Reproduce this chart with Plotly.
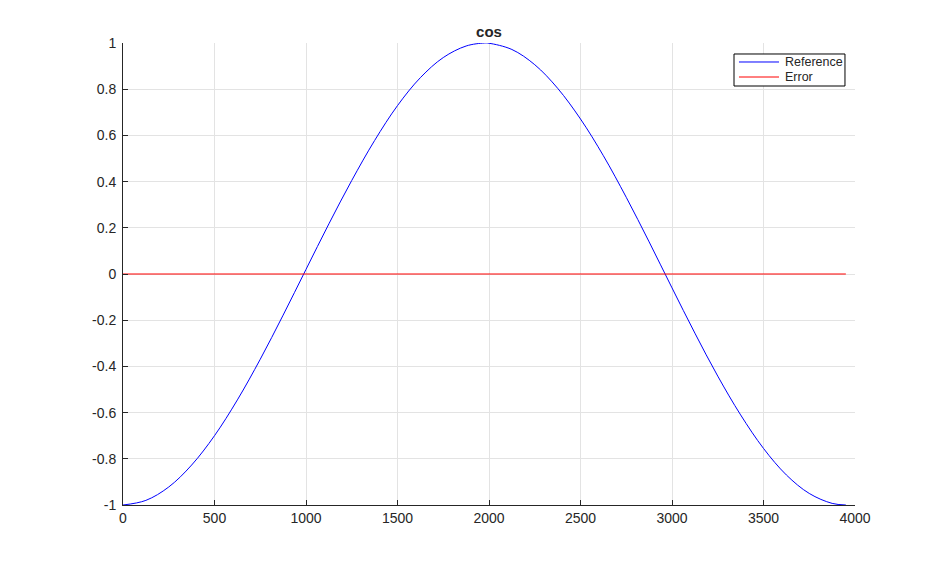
import plotly.graph_objs as go

# samples
x_ref = [0, 125, 250, 375, 500, 625, 750, 875, 1000, 1125, 1250, 1375, 1500, 1625, 1750, 1875,
         1975, 2000, 2125, 2250, 2375, 2500, 2625, 2750, 2875, 3000, 3125, 3250, 3375, 3500,
         3625, 3750, 3875, 3950]
y_ref = [-1.0, -0.980, -0.922, -0.827, -0.700, -0.545, -0.369, -0.178, 0.020, 0.217, 0.405,
         0.578, 0.729, 0.850, 0.937, 0.987, 1.0, 0.999, 0.972, 0.906, 0.804, 0.671, 0.512,
         0.332, 0.139, -0.060, -0.256, -0.442, -0.610, -0.755, -0.870, -0.950, -0.993, -1.0]

x_err = [0, 3950]
y_err = [0, 0]

x_ticks = [0, 500, 1000, 1500, 2000, 2500, 3000, 3500, 4000]
y_ticks = [-1, -0.8, -0.6, -0.4, -0.2, 0, 0.2, 0.4, 0.6, 0.8, 1]
y_labels = ['-1', '-0.8', '-0.6', '-0.4', '-0.2', '0', '0.2', '0.4', '0.6', '0.8', '1']

font = 'Liberation Sans, Arial, sans-serif'
grid = '#e3e3e3'

fig = go.Figure()
fig.add_trace(go.Scatter(x=x_ref, y=y_ref, mode='lines', name='Reference',
                         line=dict(color='#0000ff', width=1, shape='spline')))
fig.add_trace(go.Scatter(x=x_err, y=y_err, mode='lines', name='Error',
                         line=dict(color='#ff0000', width=1)))

# compact matlab-style legend (plotly's own rows are too tall)
shapes = [dict(type='rect', xref='paper', yref='paper', x0=0.8347, x1=0.9863,
               y0=0.9069, y1=0.9762, line=dict(color='black', width=1), fillcolor='white',
               layer='above')]
annotations = []
row_y = [0.9589, 0.9264]
for tr, yy in zip(fig.data, row_y):
    shapes.append(dict(type='line', xref='paper', yref='paper', x0=0.8415, x1=0.8962,
                       y0=yy, y1=yy, line=dict(color=tr.line.color, width=1), layer='above'))
    annotations.append(dict(text=tr.name, xref='paper', yref='paper', x=0.9016, y=yy,
                            xanchor='left', yanchor='middle', showarrow=False,
                            font=dict(size=12.5, color='#262626')))

# page body has an 8px margin, so the figure is offset by (8, 8)
fig.update_layout(
    width=946, height=569,
    margin=dict(l=115, r=99, t=35, b=72, autoexpand=False),
    paper_bgcolor='white', plot_bgcolor='white',
    font=dict(family=font, size=14, color='#262626'),
    title=dict(text='<b>cos</b>', x=481 / 946, xanchor='center',
               y=1 - 24 / 569, yref='container', yanchor='middle', automargin=False,
               font=dict(size=15, color='#262626')),
    showlegend=False,
    shapes=shapes,
    annotations=annotations,
)
fig.update_xaxes(range=[0, 4000], tickvals=x_ticks, showgrid=True, gridcolor=grid,
                 showline=True, linecolor='#262626', linewidth=1, automargin=False,
                 ticks='inside', ticklen=5, tickcolor='#262626', zeroline=False)
fig.update_yaxes(range=[-1, 1], tickvals=y_ticks, ticktext=y_labels, showgrid=True,
                 gridcolor=grid, showline=True, linecolor='#262626', linewidth=1,
                 automargin=False, ticklabelstandoff=3,
                 ticks='inside', ticklen=5, tickcolor='#262626', zeroline=False)

fig.write_html("out.html")
